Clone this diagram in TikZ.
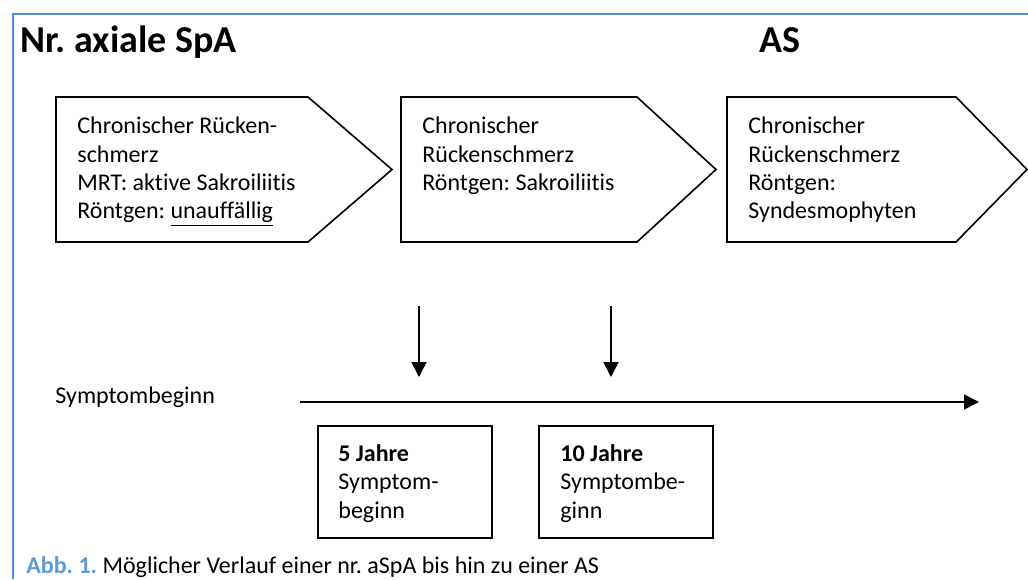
\documentclass[tikz,border=0pt]{standalone}
\usepackage{fontspec}
\setmainfont{Carlito}[Ligatures=NoCommon]
\usetikzlibrary{arrows.meta}
\usetikzlibrary{calc}
\usetikzlibrary{positioning}
\frenchspacing

\definecolor{frameblue}{HTML}{4F8EDC}
\definecolor{captionblue}{HTML}{5B9BD5}

\newcommand\lineunder[1]{\setbox0\hbox{#1}\rlap{\rule[-3.5pt]{\wd0}{0.6pt}}\box0}

\tikzset{
  stage/.style={draw=black, line width=0.8pt},
  boxtext/.style={anchor=north west, align=left, inner sep=0pt,
    font=\fontsize{12}{14.2}\selectfont},
  plaintext/.style={anchor=base west, inner sep=0pt, font=\fontsize{12}{14.2}\selectfont},
  heading/.style={anchor=base west, inner sep=0pt, font=\fontsize{19}{23}\selectfont\bfseries},
  pointer/.style={line width=0.8pt, -{Triangle[length=7.5pt,width=7.5pt]}},
}

\begin{document}
\begin{tikzpicture}[x=0.5pt,y=-0.5pt]
    \useasboundingbox (0,0) rectangle (1028,579);

    % blue frame
    \draw[frameblue, line width=0.9pt] (13,579) -- (13,14) -- (1028,14);

    \node[heading] (titlespa) at (20,52) {Nr. axiale SpA};
    \node[heading] (titleas) at (759,52) {AS};

    % stages
    \draw[stage] (56,97) -- ++(252,0) -- ++(84,72.5) -- ++(-84,72.5) -- ++(-252,0) -- cycle;
    \node[boxtext] (stageone) at (77,113.5) {\strut Chronischer Rücken-\\schmerz\\MRT: aktive Sakroiliitis\\Röntgen: \lineunder{unauffällig}};

    \draw[stage] (401,97) -- ++(236,0) -- ++(79,72.5) -- ++(-79,72.5) -- ++(-236,0) -- cycle;
    \node[boxtext] (stagetwo) at (422,113.5) {\strut Chronischer\\Rückenschmerz\\Röntgen: Sakroiliitis};

    \draw[stage] (727,97) -- ++(229,0) -- ++(71,72.5) -- ++(-71,72.5) -- ++(-229,0) -- cycle;
    \node[boxtext] (stagethree) at (748,113.5) {\strut Chronischer\\Rückenschmerz\\Röntgen:\\Syndesmophyten};

    % time line
    \node[plaintext] (onset) at (55,403) {Symptombeginn};
    \coordinate (tlstart) at (300,402);
    \coordinate (tlend) at (979,402);
    \draw[pointer] (tlstart) -- (tlend);

    \coordinate (fivetop) at (419,306);
    \coordinate (fivetip) at (419,377);
    \draw[pointer] (fivetop) -- (fivetip);
    \coordinate (tentop) at (611,306);
    \coordinate (tentip) at (611,377);
    \draw[pointer] (tentop) -- (tentip);

    % years
    \draw[stage] (318,426) rectangle +(174,112);
    \node[boxtext] (fiveyears) at (338,441) {\strut\textbf{5 Jahre}\\Symptom-\\beginn};
    \draw[stage] (539,426) rectangle +(174,112);
    \node[boxtext] (tenyears) at (560,441) {\strut\textbf{10 Jahre}\\Symptombe-\\ginn};

    \node[plaintext] (caption) at (26,573) {\textcolor{captionblue}{\bfseries Abb. 1.} Möglicher Verlauf einer nr. aSpA bis hin zu einer AS};
\end{tikzpicture}
\end{document}
